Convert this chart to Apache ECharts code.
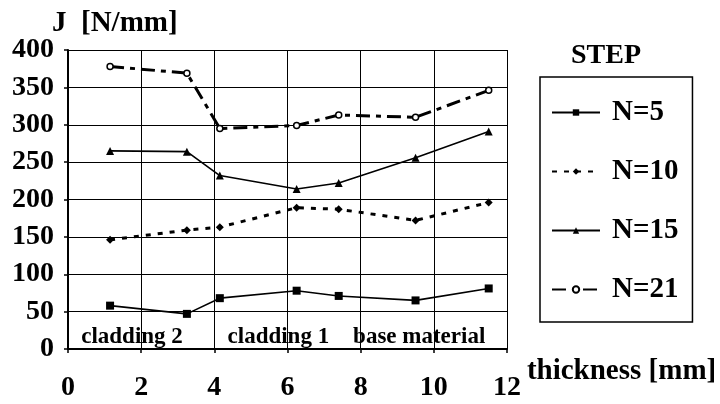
<!DOCTYPE html>
<html><head><meta charset="utf-8">
<script src="https://cdn.jsdelivr.net/npm/echarts@6/dist/echarts.min.js"></script>
<style>html,body{margin:0;padding:0;background:#fff}#c{width:720px;height:404px}</style>
</head><body><div id="c"></div>
<script>
// ---- data ----
const thickness = [1.15, 3.25, 4.15, 6.25, 7.4, 9.5, 11.5];
const seriesNames = ['N=5', 'N=10', 'N=15', 'N=21'];
const n5  = [58, 47, 68, 78, 71, 65, 81];
const n10 = [146, 159, 163, 189, 187, 172, 196];
const n15 = [265, 264, 232, 214, 222, 256, 291];
const n21 = [378, 369, 295, 299, 313, 310, 346];
const regionLabels = ['cladding 2', 'cladding 1', 'base material'];
const regionX = [1.75, 5.75, 9.6];
const regionY = [16, 16, 16];
const xTicks = [0, 2, 4, 6, 8, 10, 12];
const yTicks = [0, 50, 100, 150, 200, 250, 300, 350, 400];

const FONT = 'Liberation Serif, Times New Roman, serif';
const pairs = ys => thickness.map((x, i) => [x, ys[i]]);

const chart = echarts.init(document.getElementById('c'), null, {renderer: 'canvas'});
chart.setOption({
  animation: false,
  backgroundColor: '#fff',
  title: [
    {text: 'J  [N/mm]', left: 52, top: 9, padding: 0,
     textStyle: {fontFamily: FONT, fontWeight: 'bold', fontSize: 29, lineHeight: 29, color: '#000'}},
    {text: 'STEP', left: 606, top: 42, padding: 0, textAlign: 'center',
     textStyle: {fontFamily: FONT, fontWeight: 'bold', fontSize: 28, lineHeight: 28, color: '#000'}}
  ],
  legend: {
    data: seriesNames, orient: 'vertical', left: 540, top: 77,
    padding: [21, 14, 18, 11], itemGap: 30, itemWidth: 48, itemHeight: 8,
    borderColor: '#000', borderWidth: 1.5, backgroundColor: '#fff', selectedMode: false,
    textStyle: {fontFamily: FONT, fontWeight: 'bold', fontSize: 29, lineHeight: 29, color: '#000', padding: [0, 0, 0, 7]}
  },
  grid: {left: 68, right: 213, top: 50, bottom: 55, containLabel: false, outerBoundsMode: 'none'},
  xAxis: {
    type: 'value', min: xTicks[0], max: xTicks[xTicks.length - 1], interval: xTicks[1] - xTicks[0],
    name: 'thickness [mm]', nameLocation: 'end', nameGap: 12,
    nameTextStyle: {fontFamily: FONT, fontWeight: 'bold', fontSize: 29, lineHeight: 29, color: '#000',
                    verticalAlign: 'top', padding: [8, 0, 0, 0]},
    axisLine: {show: true, lineStyle: {color: '#000', width: 2}},
    axisTick: {show: true, length: 4, lineStyle: {color: '#000', width: 1.5}},
    axisLabel: {fontFamily: FONT, fontWeight: 'bold', fontSize: 28, lineHeight: 28, color: '#000', margin: 25},
    splitLine: {show: true, lineStyle: {color: '#000', width: 1}}
  },
  yAxis: {
    type: 'value', min: yTicks[0], max: yTicks[yTicks.length - 1], interval: yTicks[1] - yTicks[0],
    axisLine: {show: true, lineStyle: {color: '#000', width: 2}},
    axisTick: {show: true, length: 4, lineStyle: {color: '#000', width: 1.5}},
    axisLabel: {fontFamily: FONT, fontWeight: 'bold', fontSize: 28, lineHeight: 28, color: '#000', margin: 14},
    splitLine: {show: true, lineStyle: {color: '#000', width: 1}}
  },
  series: [
    {name: 'N=5', type: 'line', data: pairs(n5), symbol: 'rect', symbolSize: 8,
     lineStyle: {color: '#000', width: 1.6, type: 'solid'}, itemStyle: {color: '#000'}, emphasis: {disabled: true}},
    {name: 'N=10', type: 'line', data: pairs(n10), symbol: 'diamond', symbolSize: 8,
     lineStyle: {color: '#000', width: 3, type: [5, 7]}, itemStyle: {color: '#000'}, emphasis: {disabled: true}},
    {name: 'N=15', type: 'line', data: pairs(n15), symbol: 'triangle', symbolSize: 8,
     lineStyle: {color: '#000', width: 1.6, type: 'solid'}, itemStyle: {color: '#000'}, emphasis: {disabled: true}},
    {name: 'N=21', type: 'line', data: pairs(n21), symbol: 'circle', symbolSize: 6,
     lineStyle: {color: '#000', width: 3, type: [14, 6, 5, 6]},
     itemStyle: {color: '#fff', borderColor: '#000', borderWidth: 1.5}, emphasis: {disabled: true}},
    {name: 'regions', type: 'scatter', symbolSize: 0, silent: true, z: 5,
     data: regionLabels.map((t, i) => ({name: t, value: [regionX[i], regionY[i]]})),
     itemStyle: {opacity: 1, color: '#000'},
     label: {show: true, position: 'inside', formatter: '{b}', color: '#000', opacity: 1,
             fontFamily: FONT, fontWeight: 'bold', fontSize: 23},
     emphasis: {disabled: true}}
  ]
});
</script>
</body></html>
